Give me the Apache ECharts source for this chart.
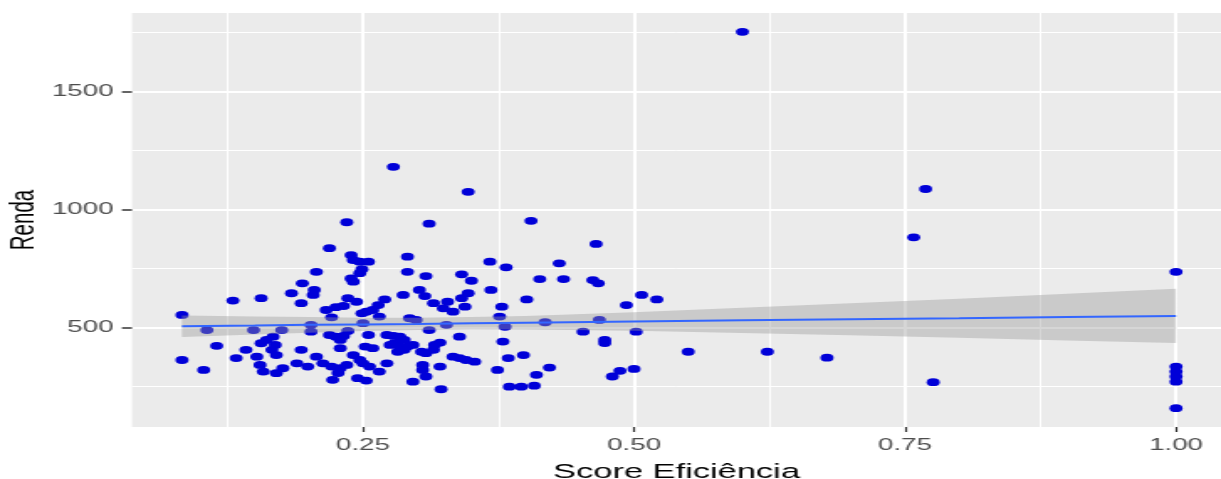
<!DOCTYPE html>
<html>
<head>
<meta charset="utf-8">
<script src="https://cdn.jsdelivr.net/npm/echarts@6.0.0/dist/echarts.min.js"></script>
<style>
  html, body { margin: 0; padding: 0; background: #fff; overflow: hidden; }
  /* the source picture is stretched sideways, so draw narrow and widen it */
  #chart { width: 727px; height: 479px; transform: scaleX(1.6795); transform-origin: 0 0; }
</style>
</head>
<body>
<div id="chart"></div>
<script>
var scoreEficiencia = [
  0.083,0.083,0.103,0.106,0.115,0.130,0.133,0.142,0.149,0.152,
  0.156,0.155,0.158,0.156,0.161,0.167,0.169,0.166,0.170,0.170,
  0.176,0.175,0.184,0.189,0.194,0.193,0.193,0.199,0.202,0.202,
  0.204,0.205,0.207,0.207,0.213,0.216,0.219,0.221,0.219,0.221,
  0.222,0.225,0.225,0.229,0.232,0.236,0.229,0.229,0.227,0.232,
  0.235,0.235,0.236,0.239,0.241,0.247,0.255,0.249,0.247,0.239,
  0.241,0.244,0.249,0.253,0.259,0.264,0.270,0.265,0.250,0.255,
  0.252,0.259,0.241,0.247,0.250,0.256,0.245,0.253,0.265,0.272,
  0.272,0.278,0.284,0.288,0.279,0.275,0.284,0.291,0.296,0.288,
  0.282,0.278,0.287,0.291,0.291,0.293,0.299,0.302,0.307,0.308,
  0.311,0.315,0.311,0.304,0.308,0.315,0.305,0.305,0.308,0.296,
  0.321,0.322,0.321,0.316,0.327,0.328,0.324,0.333,0.344,0.347,
  0.341,0.341,0.350,0.347,0.339,0.333,0.339,0.345,0.353,0.367,
  0.368,0.382,0.378,0.376,0.381,0.379,0.384,0.398,0.374,0.385,
  0.396,0.408,0.410,0.422,0.401,0.405,0.413,0.435,0.431,0.418,
  0.453,0.462,0.467,0.465,0.468,0.473,0.473,0.480,0.487,0.500,
  0.493,0.507,0.521,0.502,0.550,0.623,0.678,0.600,0.769,0.758,
  0.776,1.0,1.0,1.0,1.0,1.0,1.0
];
var renda = [
  553,362,320,489,422,614,370,405,489,376,
  624,341,313,433,447,461,426,405,383,306,
  327,489,645,348,687,603,405,334,511,482,
  638,659,736,376,348,574,836,543,468,334,
  278,461,586,447,464,485,412,327,307,591,
  341,946,624,807,786,779,779,747,730,708,
  694,609,560,567,574,595,619,546,518,468,
  419,412,383,362,348,334,285,275,313,348,
  468,464,461,447,433,426,419,419,426,405,
  397,1181,638,800,736,539,532,659,633,718,
  940,603,489,397,391,405,341,320,292,270,
  334,238,436,426,511,609,581,567,588,645,
  624,725,698,1075,461,376,370,362,355,779,
  659,755,588,546,503,440,370,383,320,249,
  249,253,299,330,619,952,705,705,772,522,
  482,701,687,854,532,447,434,292,316,324,
  595,638,619,482,397,397,372,1753,1087,882,
  268,736,334,313,292,270,158
];

// fitted line and its confidence band
var fitX    = [0.083, 0.15, 0.2, 0.25, 0.3, 0.35, 0.4, 0.5, 0.6, 0.7, 0.8, 0.9, 1.0];
var fitY    = [505, 508, 511, 513, 515, 518, 520, 525, 530, 535, 539, 544, 549];
var ciLower = [459, 470, 478, 485, 489, 492, 491, 486, 477, 467, 456, 445, 434];
var ciUpper = [551, 546, 544, 541, 541, 544, 549, 564, 583, 603, 622, 643, 664];

var xTicks = [0.25, 0.5, 0.75, 1.0];
var xMinorTicks = [0.125, 0.375, 0.625, 0.875];
var yTicks = [500, 1000, 1500];
var yMinorTicks = [250, 750, 1250, 1750];

var chart = echarts.init(document.getElementById('chart'));
var font = 'Liberation Sans, Arial, sans-serif';

var points = scoreEficiencia.map(function (x, i) { return [x, renda[i]]; });
var fitLine = fitX.map(function (x, i) { return [x, fitY[i]]; });

var xMin = 0.0369, xMax = 1.0415, yMin = 78, yMax = 1833;

option = {
    animation: false,
    grid: {
        left: 78.6, right: 0, top: 13, bottom: 52,
        show: true,
        backgroundColor: '#EBEBEB',
        borderWidth: 0,
        outerBoundsMode: 'none'
    },
    xAxis: [
        {
            type: 'value', min: xMin, max: xMax,
            name: 'Score Eficiência',
            nameLocation: 'middle',
            nameGap: 35,
            nameMoveOverlap: false,
            nameTextStyle: { fontFamily: font, fontSize: 20.5, color: '#000' },
            axisLine: { show: false },
            axisTick: { show: true, length: 5, customValues: xTicks, lineStyle: { color: '#333', width: 1.2 } },
            axisLabel: {
                customValues: xTicks,
                margin: 10,
                fontFamily: font, fontSize: 16.5, color: '#4D4D4D',
                formatter: function (v) { return v.toFixed(2); }
            },
            splitLine: { show: true, lineStyle: { color: '#fff', width: 2 } }
        },
        {
            // minor grid lines only
            type: 'value', min: xMin, max: xMax,
            position: 'bottom',
            axisLine: { show: false },
            axisTick: { show: false, customValues: xMinorTicks },
            axisLabel: { show: false, customValues: xMinorTicks },
            splitLine: { show: true, lineStyle: { color: '#fff', width: 1 } }
        }
    ],
    yAxis: [
        {
            type: 'value', min: yMin, max: yMax,
            name: 'Renda',
            nameLocation: 'middle',
            nameRotate: 90,
            nameGap: 54,
            nameMoveOverlap: false,
            nameTextStyle: { fontFamily: font, fontSize: 20.5, color: '#000' },
            axisLine: { show: false },
            axisTick: { show: true, length: 6, customValues: yTicks, lineStyle: { color: '#333', width: 1.5 } },
            axisLabel: {
                customValues: yTicks,
                margin: 11,
                fontFamily: font, fontSize: 16.5, color: '#4D4D4D',
                formatter: function (v) { return String(v); }
            },
            splitLine: { show: true, lineStyle: { color: '#fff', width: 2 } }
        },
        {
            type: 'value', min: yMin, max: yMax,
            position: 'left',
            axisLine: { show: false },
            axisTick: { show: false, customValues: yMinorTicks },
            axisLabel: { show: false, customValues: yMinorTicks },
            splitLine: { show: true, lineStyle: { color: '#fff', width: 1 } }
        }
    ],
    series: [
        {
            type: 'scatter',
            data: points,
            symbolSize: 7.8,
            itemStyle: { color: '#0000D8', opacity: 1 },
            z: 2
        },
        {
            type: 'custom',
            data: [[fitX[0], fitY[0]]],
            z: 3,
            renderItem: function (params, api) {
                var pts = [];
                for (var i = 0; i < fitX.length; i++) pts.push(api.coord([fitX[i], ciUpper[i]]));
                for (var j = fitX.length - 1; j >= 0; j--) pts.push(api.coord([fitX[j], ciLower[j]]));
                return {
                    type: 'polygon',
                    shape: { points: pts },
                    style: { fill: 'rgba(153,153,153,0.4)' }
                };
            }
        },
        {
            type: 'line',
            data: fitLine,
            symbol: 'none',
            lineStyle: { color: '#3366FF', width: 2 },
            z: 4
        }
    ]
};

chart.setOption(option);
</script>
</body>
</html>
